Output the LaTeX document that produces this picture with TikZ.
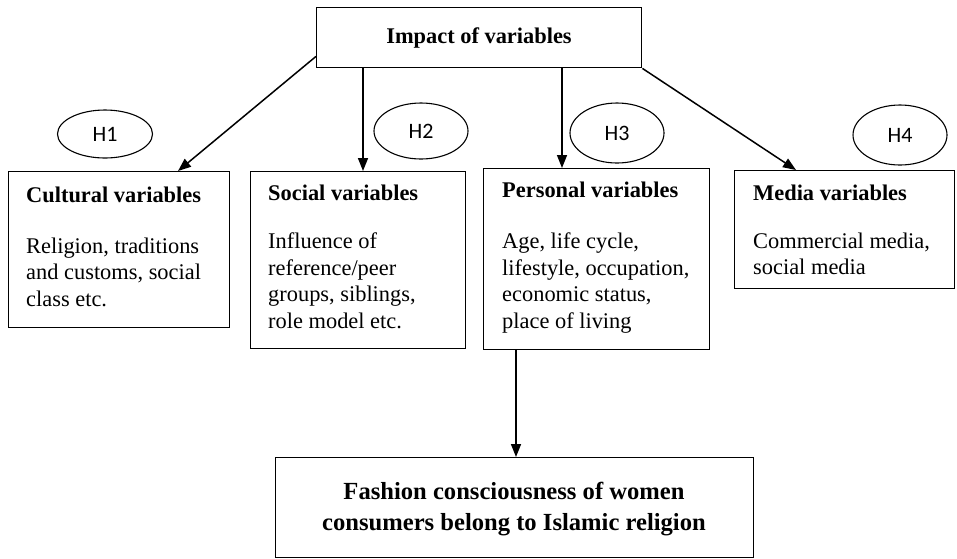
\documentclass[tikz,border=0pt]{standalone}
\usepackage{fontspec}
\setmainfont{Liberation Serif}
\newfontfamily\hfont{Carlito}
\usetikzlibrary{arrows.meta,calc,shapes.geometric}
\begin{document}
\begin{tikzpicture}[x=1pt,y=-1pt,
  box/.style={draw,line width=1.4pt,inner sep=0,anchor=north west},
  hyp/.style={draw,ellipse,line width=1.1pt,inner sep=0,font=\hfont\fontsize{22}{26}\selectfont},
  ttl/.style={anchor=base west,inner sep=0,font=\bfseries\fontsize{22.4}{26.5}\selectfont},
  txt/.style={anchor=base west,inner sep=0,align=left,font=\fontsize{22.4}{26.5}\selectfont},
  arr/.style={line width=1.5pt,-{Triangle[length=13pt,width=10pt]}}]
\useasboundingbox (0,0) rectangle (957,558);

% boxes
\node[box,minimum width=325pt,minimum height=60pt] (top) at (316,7) {};
\node[box,minimum width=221pt,minimum height=156pt] (cult) at (8,171) {};
\node[box,minimum width=215pt,minimum height=177pt] (soc) at (250,171) {};
\node[box,minimum width=226pt,minimum height=181pt] (pers) at (483,168) {};
\node[box,minimum width=220pt,minimum height=118pt] (media) at (734,170) {};
\node[box,minimum width=478pt,minimum height=100pt] (bot) at (275,457) {};

% texts (base anchor of a multi-line node = baseline of its last line)
\node[ttl,anchor=base] (toptxt) at (479,43) {Impact of variables};

\node[ttl] (cultt) at (26,202) {Cultural variables};
\node[txt] (cultb) at (26,306) {Religion, traditions\\and customs, social\\class etc.};

\node[ttl] (soct) at (268,200) {Social variables};
\node[txt] (socb) at (268,328) {Influence of\\reference/peer\\groups, siblings,\\role model etc.};

\node[ttl] (perst) at (502,197) {Personal variables};
\node[txt] (persb) at (502,328) {Age, life cycle,\\lifestyle, occupation,\\economic status,\\place of living};

\node[ttl] (mediat) at (753,200) {Media variables};
\node[txt] (mediab) at (753,274.5) {Commercial media,\\social media};

\node[ttl,anchor=base,align=center,font=\bfseries\fontsize{24.6}{31}\selectfont] (bottxt) at (514,530)
  {Fashion consciousness of women\\consumers belong to Islamic religion};

% hypotheses
\node[hyp,minimum width=95pt,minimum height=48pt] (h1) at (105,134) {H1};
\node[hyp,minimum width=94pt,minimum height=56pt] (h2) at (421,131) {H2};
\node[hyp,minimum width=94pt,minimum height=60pt] (h3) at (617,133) {H3};
\node[hyp,minimum width=94pt,minimum height=60pt] (h4) at (900,135) {H4};

% arrows
\draw[arr] ($(top.south west)+(0,-12)$) -- ($(cult.north west)+(170,0)$);
\draw[arr] ($(top.south west)+(47,0)$) -- ($(soc.north west)+(113,0)$);
\draw[arr] ($(top.south west)+(246,0)$) -- ($(pers.north west)+(79,0)$);
\draw[arr] (top.south east) -- ($(media.north west)+(62,0)$);
\draw[arr] ($(pers.south west)+(33,0)$) -- ($(bot.north west)+(241,0)$);
\end{tikzpicture}
\end{document}
